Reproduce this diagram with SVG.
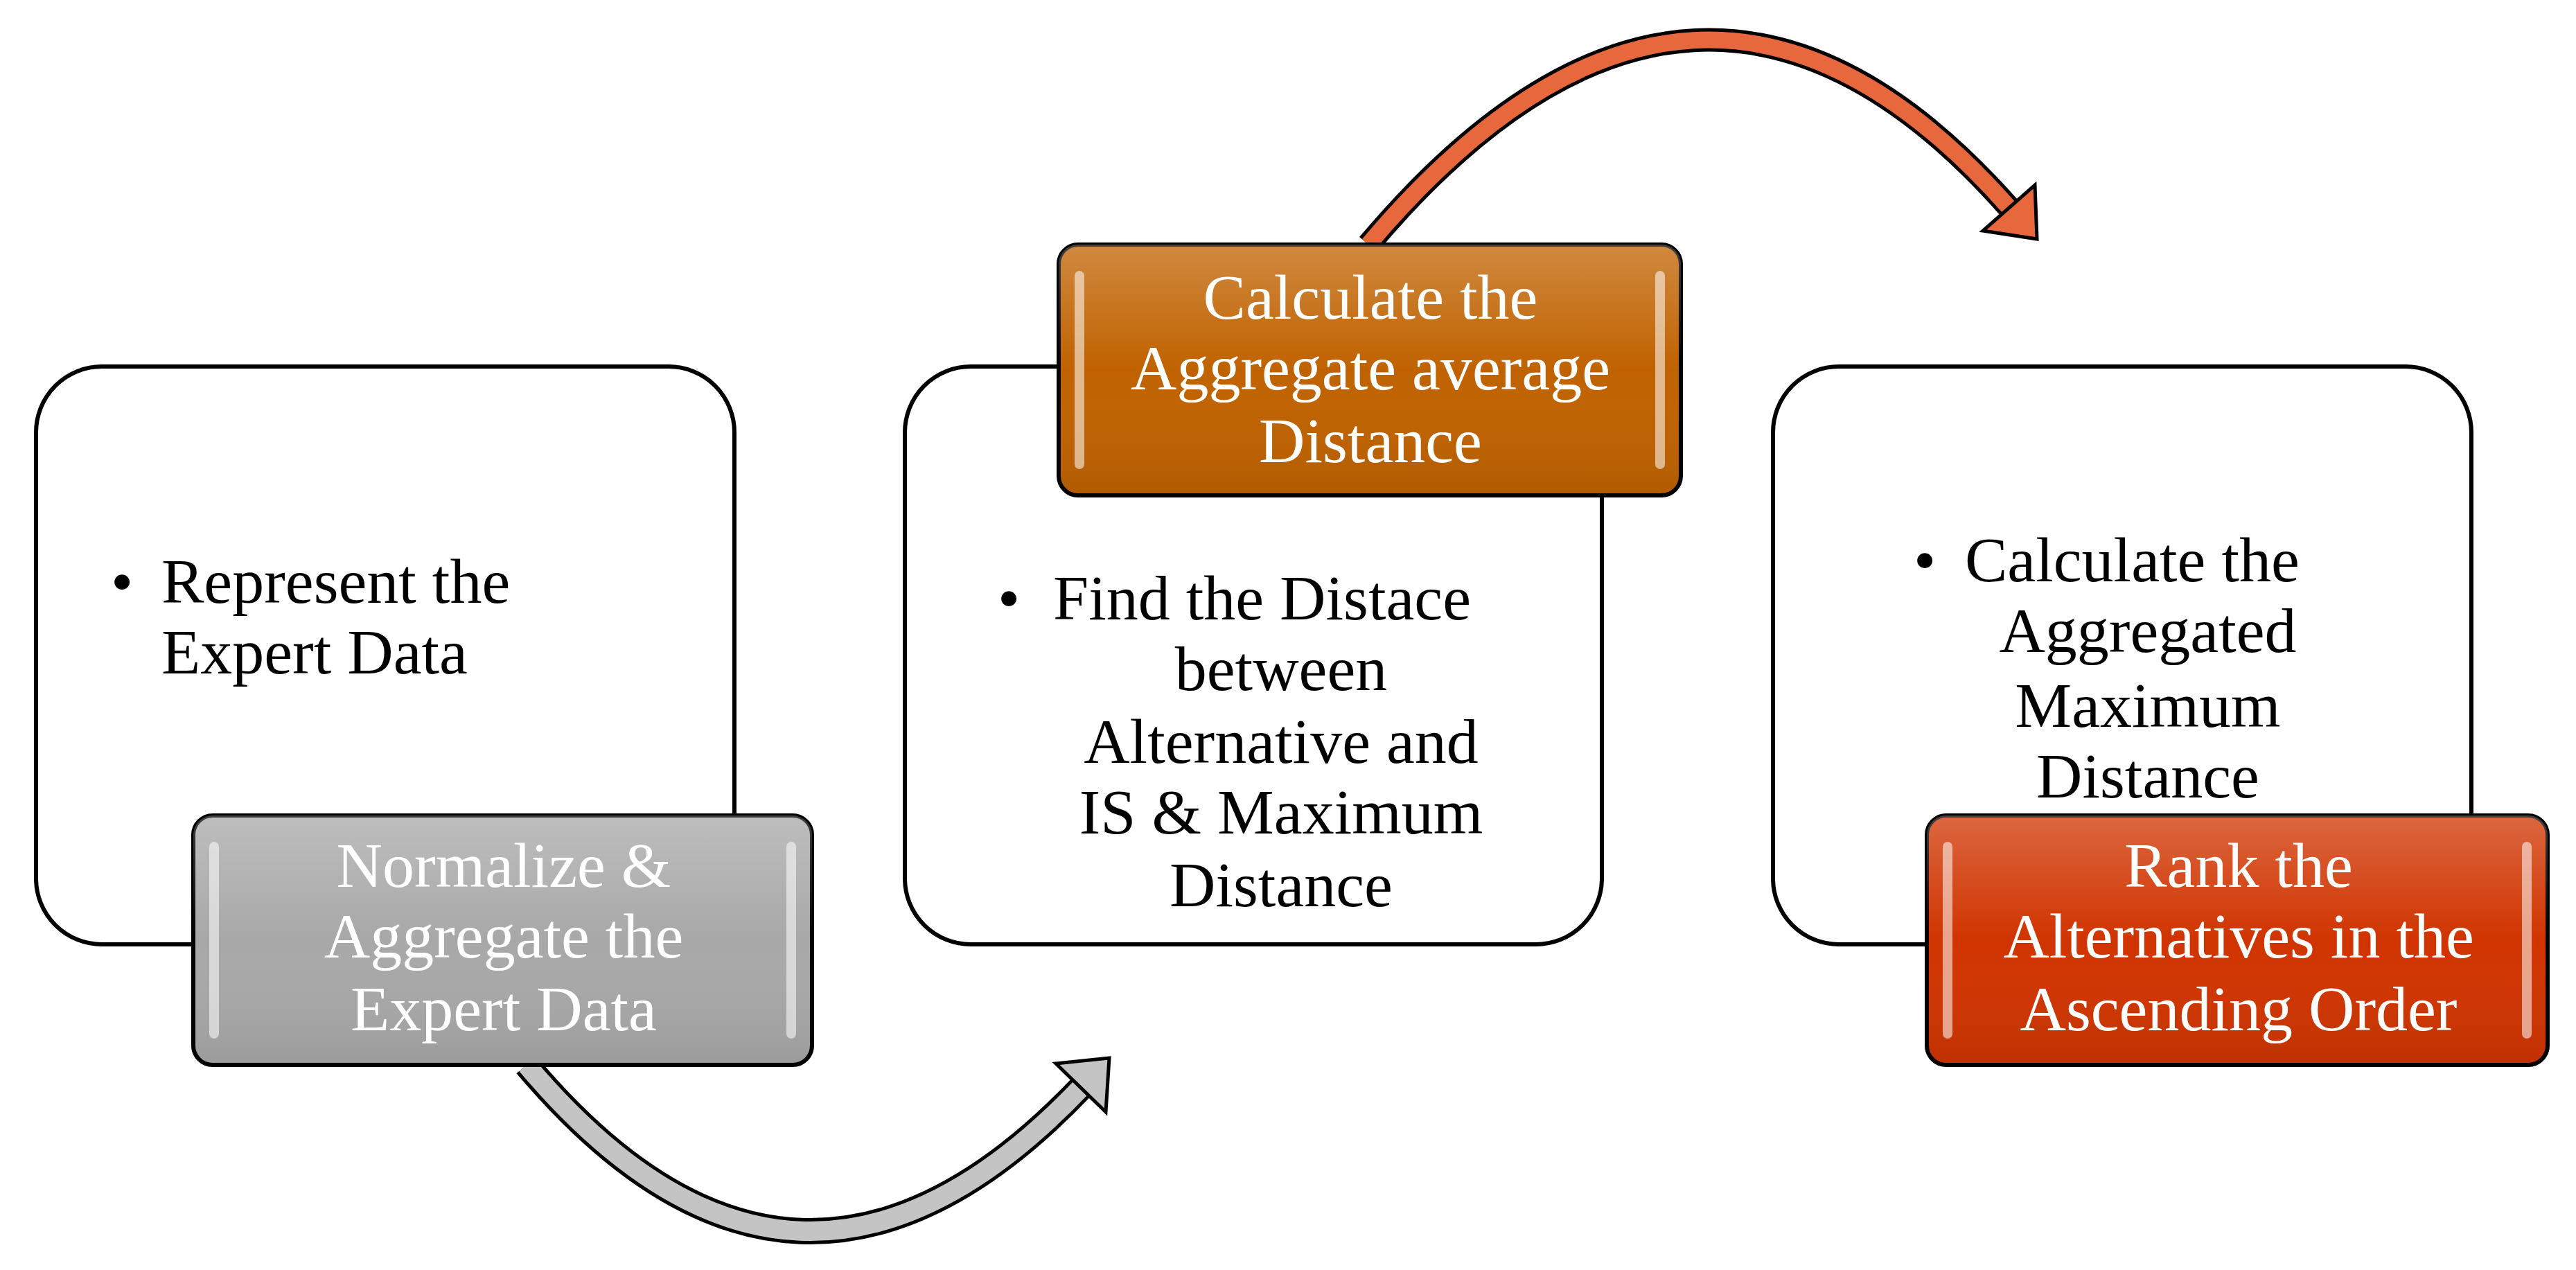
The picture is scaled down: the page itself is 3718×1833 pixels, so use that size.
<svg xmlns="http://www.w3.org/2000/svg" width="3718" height="1833" viewBox="0 0 3718 1833">
<style>
.wb{fill:#fff;stroke:#000;stroke-width:6}
.cb{stroke:#000;stroke-width:6}
.hl{fill:#fff;opacity:0.55}
text{font-family:"Liberation Serif","Times New Roman",serif;font-size:92px}
.dk{fill:#000}
.wt{fill:#fff;text-anchor:middle}
.mid{text-anchor:middle}
</style>
<defs>
<linearGradient id="sh" x1="0" y1="0" x2="0" y2="1">
<stop offset="0" stop-color="#fff" stop-opacity="0.25"/>
<stop offset="0.5" stop-color="#fff" stop-opacity="0"/>
<stop offset="1" stop-color="#000" stop-opacity="0.08"/>
</linearGradient>
</defs>
<rect width="3718" height="1833" fill="#fff"/>
<g id="box1"><rect class="wb" x="52" y="529" width="1008" height="834" rx="95"/>
<text class="dk" x="160" y="870">•</text>
<text class="dk" x="233" y="870">Represent the</text>
<text class="dk" x="233" y="972">Expert Data</text></g>
<g id="box2"><rect class="wb" x="1306" y="529" width="1006" height="834" rx="95"/>
<text class="dk" x="1440" y="894">•</text>
<text class="dk" x="1520" y="894">Find the Distace</text>
<text class="dk mid" x="1849" y="996">between</text>
<text class="dk mid" x="1849" y="1101">Alternative and</text>
<text class="dk mid" x="1849" y="1203">IS &amp; Maximum</text>
<text class="dk mid" x="1849" y="1308">Distance</text></g>
<g id="box3"><rect class="wb" x="2559" y="529" width="1008" height="834" rx="95"/>
<text class="dk" x="2762" y="839">•</text>
<text class="dk" x="2836" y="839">Calculate the</text>
<text class="dk mid" x="3100" y="941">Aggregated</text>
<text class="dk mid" x="3100" y="1049">Maximum</text>
<text class="dk mid" x="3100" y="1151">Distance</text></g>
<g id="connectors">
<path d="M760 1537 Q1150 2000 1560 1570" fill="none" stroke="#000" stroke-width="38"/>
<path d="M760 1537 Q1150 2000 1560 1570" fill="none" stroke="#c4c4c4" stroke-width="28"/>
<polygon points="1601,1527 1596,1605 1524,1535" fill="#c4c4c4" stroke="#000" stroke-width="5"/>
<path d="M1975 353 Q2450 -210 2900 300" fill="none" stroke="#000" stroke-width="34"/>
<path d="M1975 353 Q2450 -210 2900 300" fill="none" stroke="#e8683e" stroke-width="24"/>
<polygon points="2940,345 2937,267 2862,333" fill="#e8683e" stroke="#000" stroke-width="5"/>
</g>
<g id="gray"><rect class="cb" x="279" y="1177" width="893" height="360" rx="28" fill="#a8a8a8"/>
<rect x="279" y="1177" width="893" height="360" rx="28" fill="url(#sh)"/>
<rect class="hl" x="302" y="1215" width="14" height="284" rx="7"/>
<rect class="hl" x="1135" y="1215" width="14" height="284" rx="7"/>
<text class="wt" x="727" y="1280">Normalize &amp;</text>
<text class="wt" x="727" y="1382">Aggregate the</text>
<text class="wt" x="727" y="1487">Expert Data</text></g>
<g id="orange"><rect class="cb" x="1528" y="353" width="898" height="362" rx="28" fill="#c06200"/>
<rect x="1528" y="353" width="898" height="362" rx="28" fill="url(#sh)"/>
<rect class="hl" x="1551" y="391" width="14" height="286" rx="7" fill="#ffd080"/>
<rect class="hl" x="2389" y="391" width="14" height="286" rx="7" fill="#ffd080"/>
<text class="wt" x="1978" y="460">Calculate the</text>
<text class="wt" x="1978" y="562">Aggregate average</text>
<text class="wt" x="1978" y="667">Distance</text></g>
<g id="red"><rect class="cb" x="2781" y="1177" width="896" height="360" rx="28" fill="#d03400"/>
<rect x="2781" y="1177" width="896" height="360" rx="28" fill="url(#sh)"/>
<rect class="hl" x="2804" y="1215" width="14" height="284" rx="7"/>
<rect class="hl" x="3640" y="1215" width="14" height="284" rx="7"/>
<text class="wt" x="3231" y="1280">Rank the</text>
<text class="wt" x="3231" y="1382">Alternatives in the</text>
<text class="wt" x="3231" y="1487">Ascending Order</text></g>
</svg>
